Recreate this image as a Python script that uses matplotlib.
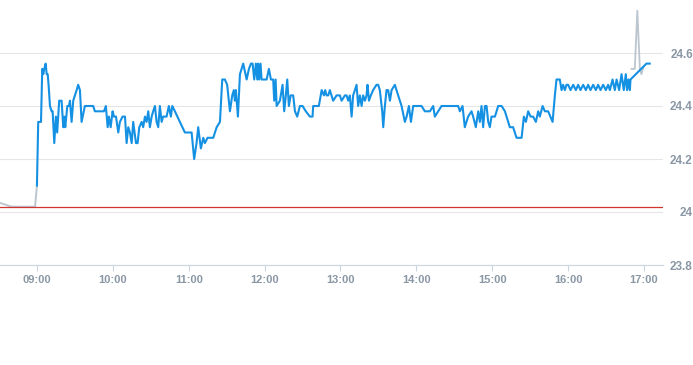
import matplotlib
matplotlib.use("Agg")
import matplotlib.pyplot as plt
import matplotlib.dates as mdates
import pandas as pd

DAY = pd.Timestamp("2024-01-02 09:00")

# minutes after 09:00 and price, main session
session_minutes = [
    0, 1.0, 3.2, 4.2, 5.0, 5.8, 6.9, 7.7, 8.5, 9.2, 10.3, 11.6, 12.4, 13.7, 15.0, 16.0,
    17.6, 19.5, 20.8, 21.6, 22.4, 24.0, 25.3, 26.1, 27.4, 28.7, 30.0, 31.4, 32.6, 34.0,
    35.3, 37.9, 44.5, 45.8, 53.0, 54.5, 55.9, 56.9, 58.3, 59.8, 60.9, 62.5, 64.3, 65.6,
    67.7, 69.6, 70.9, 72.2, 73.5, 74.9, 76.1, 78.3, 79.6, 80.9, 82.8, 84.0, 85.4, 86.7,
    88.0, 89.3, 90.7, 91.9, 93.3, 94.6, 95.9, 97.2, 98.6, 99.8, 102.5, 104.3, 105.9,
    107.0, 109.1, 113.0, 117.0, 122.3, 124.3, 126.2, 127.5, 129.6, 131.5, 132.8, 134.9,
    139.4, 142.1, 144.7, 146.5, 148.6, 150.4, 152.6, 154.4, 155.7, 156.5, 157.3, 158.9,
    160.5, 161.8, 163.1, 165.8, 167.6, 169.2, 170.5, 171.8, 173.1, 174.2, 174.9, 175.7,
    176.8, 177.6, 181.6, 183.4, 185.0, 186.8, 187.6, 188.7, 189.5, 192.1, 194.2, 195.5,
    196.8, 197.9, 199.2, 200.6, 202.6, 204.0, 205.8, 207.9, 210.0, 212.6, 215.8, 217.9,
    218.4, 222.9, 225.1, 226.9, 227.9, 229.0, 230.3, 231.6, 234.2, 236.9, 239.5, 240.9,
    243.5, 244.8, 246.1, 247.4, 248.8, 250.0, 251.4, 252.7, 254.0, 255.3, 256.7, 257.9,
    259.3, 260.6, 261.4, 262.5, 264.0, 265.8, 268.5, 269.8, 271.1, 273.0, 273.8, 275.1,
    276.4, 277.7, 279.1, 280.4, 283.0, 285.6, 288.3, 290.9, 292.3, 294.1, 295.7, 297.5,
    304.1, 306.7, 310.7, 313.3, 314.6, 317.2, 319.9, 333.0, 334.4, 336.5, 338.3, 340.9,
    343.6, 344.9, 347.0, 348.9, 350.2, 351.5, 352.8, 354.2, 355.5, 356.8, 358.1, 359.4,
    362.1, 364.7, 367.4, 370.0, 373.9, 376.5, 379.2, 381.8, 383.2, 385.0, 386.6, 388.4,
    390.3, 392.3, 394.5, 396.3, 397.6, 399.8, 401.6, 404.2, 407.7, 409.5, 410.8, 412.1,
    413.4, 414.8, 416.0, 417.4, 418.7, 420.0, 421.9, 424.0, 426.1, 427.9, 429.8, 431.9,
    434.0, 435.8, 437.7, 439.8, 441.9, 443.7, 445.6, 447.7, 449.8, 451.6, 453.0, 455.1,
    456.9, 458.3, 460.3, 462.2, 464.0, 465.6, 466.6, 467.7, 468.8, 469.3, 481.9, 484.5,
]
session_prices = [
    24.10, 24.34, 24.34, 24.54, 24.52, 24.54, 24.56, 24.52, 24.52, 24.48, 24.40, 24.38,
    24.38, 24.26, 24.36, 24.30, 24.42, 24.42, 24.32, 24.36, 24.32, 24.40, 24.40, 24.42,
    24.34, 24.42, 24.44, 24.46, 24.48, 24.46, 24.34, 24.40, 24.40, 24.38, 24.38, 24.40,
    24.32, 24.36, 24.32, 24.38, 24.36, 24.36, 24.30, 24.34, 24.36, 24.36, 24.26, 24.32,
    24.30, 24.26, 24.34, 24.26, 24.26, 24.32, 24.34, 24.32, 24.36, 24.34, 24.38, 24.32,
    24.36, 24.38, 24.40, 24.34, 24.32, 24.40, 24.34, 24.36, 24.36, 24.40, 24.36, 24.40,
    24.38, 24.34, 24.30, 24.30, 24.20, 24.26, 24.32, 24.24, 24.28, 24.26, 24.28, 24.28,
    24.32, 24.34, 24.50, 24.50, 24.48, 24.38, 24.44, 24.46, 24.42, 24.46, 24.36, 24.52,
    24.54, 24.56, 24.50, 24.54, 24.56, 24.56, 24.50, 24.56, 24.50, 24.56, 24.50, 24.56,
    24.50, 24.50, 24.54, 24.50, 24.50, 24.42, 24.50, 24.40, 24.42, 24.48, 24.38, 24.44,
    24.50, 24.40, 24.44, 24.44, 24.38, 24.36, 24.40, 24.40, 24.38, 24.36, 24.36, 24.40,
    24.40, 24.46, 24.44, 24.46, 24.44, 24.44, 24.46, 24.42, 24.44, 24.44, 24.42, 24.44,
    24.44, 24.42, 24.44, 24.36, 24.44, 24.46, 24.48, 24.40, 24.44, 24.40, 24.44, 24.42,
    24.44, 24.48, 24.42, 24.44, 24.46, 24.48, 24.48, 24.46, 24.38, 24.32, 24.40, 24.46,
    24.46, 24.42, 24.46, 24.48, 24.44, 24.40, 24.34, 24.36, 24.40, 24.34, 24.40, 24.40,
    24.38, 24.38, 24.40, 24.36, 24.38, 24.40, 24.40, 24.38, 24.40, 24.32, 24.36, 24.38,
    24.36, 24.32, 24.38, 24.34, 24.40, 24.32, 24.40, 24.40, 24.34, 24.32, 24.36, 24.36,
    24.40, 24.40, 24.38, 24.32, 24.32, 24.28, 24.28, 24.28, 24.36, 24.34, 24.38, 24.36,
    24.36, 24.34, 24.38, 24.36, 24.40, 24.38, 24.38, 24.34, 24.44, 24.50, 24.50, 24.50,
    24.46, 24.48, 24.46, 24.48, 24.48, 24.46, 24.48, 24.46, 24.48, 24.46, 24.48, 24.46,
    24.48, 24.46, 24.48, 24.46, 24.48, 24.46, 24.48, 24.46, 24.48, 24.46, 24.50, 24.46,
    24.50, 24.46, 24.52, 24.46, 24.52, 24.46, 24.50, 24.46, 24.50, 24.56, 24.56,
]

# pre-market and after-hours prints (grey)
pre_minutes = [-33, -20, -1.5, 0]
pre_prices = [24.04, 24.02, 24.02, 24.10]
post_minutes = [470.1, 472.7, 474.7, 476.7, 477.9, 479.8]
post_prices = [24.54, 24.54, 24.76, 24.54, 24.52, 24.55]

prev_close = 24.02
y_ticks = [23.8, 24.0, 24.2, 24.4, 24.6]
y_tick_labels = ["23.8", "24", "24.2", "24.4", "24.6"]

TICK_COLOR = "#8a97a4"


def to_times(minutes):
    return [DAY + pd.Timedelta(minutes=m) for m in minutes]


fig = plt.figure(figsize=(6.93, 3.65), dpi=100)
ax = fig.add_axes([-1 / 693, 100 / 365, 664 / 693, 265 / 365])

ax.plot(to_times(pre_minutes), pre_prices, color="#bcc6cf", lw=1.4, zorder=2)
ax.plot(to_times(post_minutes), post_prices, color="#bcc6cf", lw=1.3, zorder=2)
ax.plot(to_times(session_minutes), session_prices, color="#1591e4", lw=1.5,
        solid_joinstyle="round", zorder=3)
ax.axhline(prev_close, color="#d0352f", lw=0.9, zorder=2.5)

ax.set_xlim(DAY - pd.Timedelta(minutes=30), DAY + pd.Timedelta(minutes=495))
ax.set_ylim(23.8, 24.8)

ax.set_yticks(y_ticks)
ax.set_yticklabels(y_tick_labels)
ax.yaxis.tick_right()
ax.grid(axis="y", color="#e6e6e6", lw=0.8)
ax.set_axisbelow(True)

ax.xaxis.set_major_locator(mdates.HourLocator())
ax.xaxis.set_major_formatter(mdates.DateFormatter("%H:%M"))

for side in ["top", "left", "right"]:
    ax.spines[side].set_visible(False)
ax.spines["bottom"].set_color("#ccd6e0")
ax.spines["bottom"].set_linewidth(0.8)

ax.tick_params(axis="x", length=4, width=0.8, color="#ccd6e0", pad=3.5,
               labelsize=8, labelcolor=TICK_COLOR)
ax.tick_params(axis="y", length=0, pad=21.5, labelsize=8.5, labelcolor=TICK_COLOR)
for lab in ax.get_yticklabels():
    lab.set_horizontalalignment("right")
for lab in ax.get_xticklabels() + ax.get_yticklabels():
    lab.set_fontfamily("Liberation Sans")
    lab.set_fontweight("bold")

fig.savefig("out.png", dpi=100)
plt.close(fig)
